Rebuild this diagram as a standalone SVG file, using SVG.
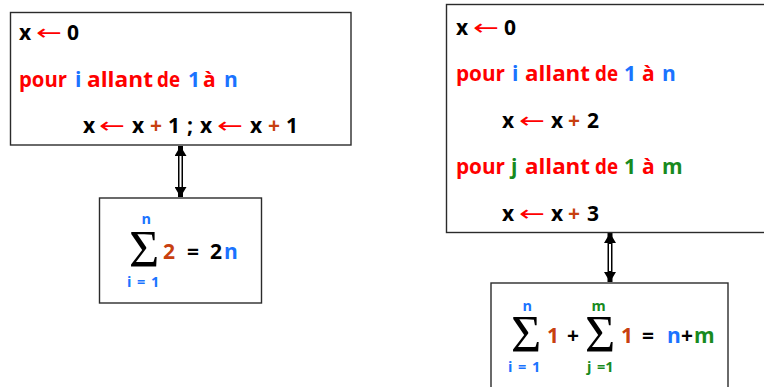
<svg xmlns="http://www.w3.org/2000/svg" width="764" height="387" viewBox="0 0 764 387">
<defs>
<style>
.box{fill:#fff;stroke:#2b2b2b;stroke-width:1.4}
.t{font-family:"Open Sans","Liberation Sans",sans-serif;font-weight:bold;font-size:21px}
.s{font-family:"Open Sans","Liberation Sans",sans-serif;font-weight:bold;font-size:14.5px}
.sig{font-family:"Liberation Serif","DejaVu Serif",serif;font-size:52px;fill:#000}
.arr{font-family:"DejaVu Sans",sans-serif;font-size:22px;fill:#ff0000}
.k{fill:#000}.r{fill:#ff0000}.b{fill:#1a73ff}.o{fill:#c8400f}.g{fill:#178a1e}
.shaft{stroke:#000;stroke-width:5}
.inner{stroke:#fff;stroke-width:2}
</style>
<marker id="head" viewBox="0 0 10 10" refX="10" refY="5" markerWidth="10" markerHeight="12" markerUnits="userSpaceOnUse" orient="auto-start-reverse" preserveAspectRatio="none">
<path d="M0,0 L10,5 L0,10 z" fill="#000"/>
</marker>
</defs>
<rect width="764" height="387" fill="#fff"/>

<g id="connectors">
<line class="shaft" x1="180.5" y1="146" x2="180.5" y2="197" marker-start="url(#head)" marker-end="url(#head)"/>
<line class="inner" x1="180.5" y1="156" x2="180.5" y2="187"/>
<line class="shaft" x1="610" y1="233" x2="610" y2="282" marker-start="url(#head)" marker-end="url(#head)"/>
<line class="inner" x1="610" y1="244" x2="610" y2="271"/>
</g>

<g id="algo1">
<rect class="box" x="10.5" y="12.5" width="340.5" height="132.5"/>
<text class="t k" x="19" y="40">x</text>
<text class="arr" x="36" y="40" textLength="26" lengthAdjust="spacingAndGlyphs">←</text>
<text class="t k" x="67" y="40">0</text>
<text class="t r" x="19" y="87" textLength="48" lengthAdjust="spacingAndGlyphs">pour</text>
<text class="t b" x="75" y="87">i</text>
<text class="t r" x="87" y="87" textLength="66" lengthAdjust="spacingAndGlyphs">allant</text>
<text class="t r" x="157" y="87" textLength="23" lengthAdjust="spacingAndGlyphs">de</text>
<text class="t b" x="188" y="87">1</text>
<text class="t r" x="203" y="87">à</text>
<text class="t b" x="224" y="87">n</text>
<text class="t k" x="83" y="133">x</text>
<text class="arr" x="99" y="133" textLength="26" lengthAdjust="spacingAndGlyphs">←</text>
<text class="t k" x="132" y="133">x</text>
<text class="t o" x="150" y="133">+</text>
<text class="t k" x="168" y="133">1</text>
<text class="t k" x="187" y="133">;</text>
<text class="t k" x="200" y="133">x</text>
<text class="arr" x="217" y="133" textLength="26" lengthAdjust="spacingAndGlyphs">←</text>
<text class="t k" x="250" y="133">x</text>
<text class="t o" x="268" y="133">+</text>
<text class="t k" x="286" y="133">1</text>
</g>

<g id="sum1">
<rect class="box" x="99.5" y="198" width="162" height="105"/>
<text class="s b" x="141.5" y="224">n</text>
<text class="sig" x="129" y="267">Σ</text>
<text class="t o" x="163" y="259">2</text>
<text class="t k" x="187" y="259">=</text>
<text class="t k" x="210" y="259">2</text>
<text class="t b" x="224" y="259">n</text>
<text class="s b" y="287"><tspan x="127">i</tspan><tspan x="137">=</tspan><tspan x="151">1</tspan></text>
</g>

<g id="algo2">
<rect class="box" x="446.5" y="4.5" width="330" height="228"/>
<text class="t k" x="456" y="35">x</text>
<text class="arr" x="473" y="35" textLength="26" lengthAdjust="spacingAndGlyphs">←</text>
<text class="t k" x="504" y="35">0</text>
<text class="t r" x="456" y="81" textLength="49" lengthAdjust="spacingAndGlyphs">pour</text>
<text class="t b" x="512" y="81">i</text>
<text class="t r" x="525" y="81" textLength="65" lengthAdjust="spacingAndGlyphs">allant</text>
<text class="t r" x="595" y="81" textLength="23" lengthAdjust="spacingAndGlyphs">de</text>
<text class="t b" x="624" y="81">1</text>
<text class="t r" x="642" y="81">à</text>
<text class="t b" x="662" y="81">n</text>
<text class="t k" x="502" y="128">x</text>
<text class="arr" x="519" y="128" textLength="26" lengthAdjust="spacingAndGlyphs">←</text>
<text class="t k" x="551" y="128">x</text>
<text class="t o" x="568" y="128">+</text>
<text class="t k" x="587" y="128">2</text>
<text class="t r" x="456" y="174" textLength="49" lengthAdjust="spacingAndGlyphs">pour</text>
<text class="t g" x="511" y="174">j</text>
<text class="t r" x="525" y="174" textLength="65" lengthAdjust="spacingAndGlyphs">allant</text>
<text class="t r" x="595" y="174" textLength="23" lengthAdjust="spacingAndGlyphs">de</text>
<text class="t g" x="624" y="174">1</text>
<text class="t r" x="642" y="174">à</text>
<text class="t g" x="662" y="174">m</text>
<text class="t k" x="502" y="221">x</text>
<text class="arr" x="519" y="221" textLength="26" lengthAdjust="spacingAndGlyphs">←</text>
<text class="t k" x="551" y="221">x</text>
<text class="t o" x="568" y="221">+</text>
<text class="t k" x="587" y="221">3</text>
</g>

<g id="sum2">
<rect class="box" x="491" y="283" width="237" height="110"/>
<text class="s b" x="522.5" y="311">n</text>
<text class="sig" x="511" y="352">Σ</text>
<text class="t o" x="547" y="343">1</text>
<text class="t k" x="567" y="343">+</text>
<text class="s g" x="591.5" y="311">m</text>
<text class="sig" x="585" y="352">Σ</text>
<text class="t o" x="621" y="343">1</text>
<text class="t k" x="642" y="343">=</text>
<text class="t b" x="667" y="343">n</text>
<text class="t k" x="681" y="343">+</text>
<text class="t g" x="694" y="343">m</text>
<text class="s b" y="372"><tspan x="508">i</tspan><tspan x="518">=</tspan><tspan x="532">1</tspan></text>
<text class="s g" y="372"><tspan x="587">j</tspan><tspan x="597">=1</tspan></text>
</g>
</svg>
